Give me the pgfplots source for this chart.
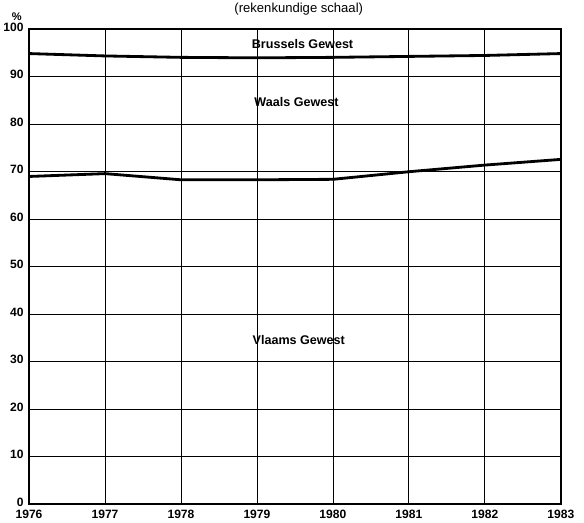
\documentclass[border=0pt]{standalone}
\usepackage{fontspec}
\setmainfont{Liberation Sans}
\usepackage{pgfplots}
\pgfplotsset{compat=1.18}

\begin{document}
\begin{tikzpicture}[x=1pt,y=1pt]
\begin{axis}[
    scale only axis,
    width=529pt,
    height=472pt,
    xmin=1976, xmax=1983,
    ymin=0, ymax=100,
    xtick={1976,...,1983},
    xticklabels={1976,1977,1978,1979,1980,1981,1982,1983},
    ytick={0,10,...,100},
    grid=major,
    major grid style={black, line width=0.8pt},
    axis line style={line width=1.8pt},
    tick style={draw=none},
    /pgf/number format/assume math mode=true,
    ticklabel style={font=\fontsize{12}{14}\selectfont\bfseries},
    yticklabel style={xshift=-2pt, yshift=2pt},
    xticklabel style={yshift=-3pt},
    clip=false,
]
% grens Vlaams / Waals Gewest
\addplot[black, line width=2.8pt] coordinates {
    (1976,69.0) (1977,69.6) (1978,68.3) (1979,68.3) (1980,68.4)
    (1981,70.0) (1982,71.4) (1983,72.6)};
% grens Waals / Brussels Gewest
\addplot[black, line width=2.8pt] coordinates {
    (1976,94.9) (1977,94.4) (1978,94.1) (1979,94.0) (1980,94.1)
    (1981,94.3) (1982,94.5) (1983,94.9)};

\node[font=\fontsize{12.5}{14}\selectfont\bfseries] at (axis cs:1979.6,97.0) {Brussels Gewest};
\node[font=\fontsize{12.5}{14}\selectfont\bfseries] at (axis cs:1979.52,84.7) {Waals Gewest};
\node[font=\fontsize{12.5}{14}\selectfont\bfseries] at (axis cs:1979.55,34.5) {Vlaams Gewest};
\node[font=\fontsize{13}{15}\selectfont] at (axis cs:1979.55,104.2) {(rekenkundige schaal)};
\node[font=\fontsize{11}{13}\selectfont\bfseries] at (axis cs:1975.84,102.75) {\%};
\coordinate (R) at (rel axis cs:1,0);
\end{axis}
\path (R) ++(23pt,0);
\end{tikzpicture}
\end{document}
